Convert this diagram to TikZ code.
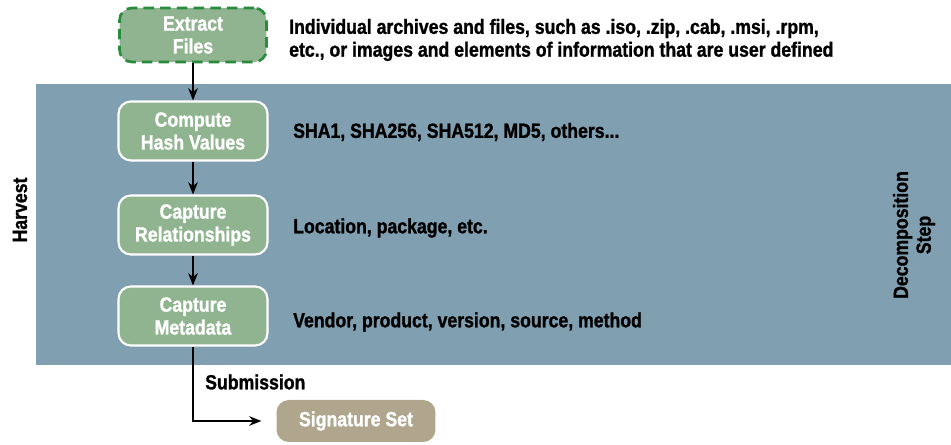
\documentclass[tikz,border=0pt]{standalone}
\usepackage{fontspec}
\setmainfont{Liberation Sans Bold}[FakeStretch=0.86,FakeBold=1.2]
\usetikzlibrary{arrows.meta,positioning}

\definecolor{bandblue}{RGB}{128,159,176}
\definecolor{stepgreen}{RGB}{143,180,143}
\definecolor{dashgreen}{RGB}{40,140,60}
\definecolor{sigtan}{RGB}{176,166,142}

\tikzset{
  stepbox/.style={rectangle,rounded corners=7pt,fill=stepgreen,draw=white,line width=1.2pt,
    text=white,align=center,minimum width=2.98cm,minimum height=1.18cm,inner sep=2pt},
  note/.style={anchor=west,align=left},
  flow/.style={-{Stealth[length=7pt,width=5.5pt]},line width=1.1pt}
}

\begin{document}
\begin{tikzpicture}[x=0.02cm,y=-0.02cm,font=\fontsize{11.7}{13}\selectfont]
  \useasboundingbox (0,0) rectangle (951,445);
  \fill[bandblue] (36,84) rectangle (951,365);

  \node (extract) [stepbox,draw=dashgreen,dash pattern=on 6pt off 3.5pt,line width=1.5pt,
    minimum width=2.94cm,minimum height=1.08cm] at (193,35) {Extract\\Files};
  \node (hash) [stepbox] at (193,131) {Compute\\Hash Values};
  \node (rel) [stepbox] at (193,225) {Capture\\Relationships};
  \node (meta) [stepbox] at (193,316) {Capture\\Metadata};
  \node (sig) [stepbox,draw=none,fill=sigtan,minimum width=3.18cm,minimum height=0.84cm] at (356,421) {Signature Set};

  \node (extractnote) [note] at (283,40) {Individual archives and files, such as .iso, .zip, .cab, .msi, .rpm,\\etc., or images and elements of information that are user defined};
  \node (hashnote) [note] at (287,132) {SHA1, SHA256, SHA512, MD5, others...};
  \node (relnote) [note] at (287,228) {Location, package, etc.};
  \node (metanote) [note] at (287,322) {Vendor, product, version, source, method};

  \node (harvest) [rotate=90] at (20,210) {Harvest};
  \node (decomp) [rotate=90,align=center] at (914,235) {Decomposition\\Step};

  \draw[flow] (extract) -- (hash);
  \draw[flow] (hash) -- (rel);
  \draw[flow] (rel) -- (meta);
  \draw[flow,shorten >=8pt] (meta.south) |- (sig.west);
  \node (submit) [anchor=west] at (199,382) {Submission};

\end{tikzpicture}
\end{document}
